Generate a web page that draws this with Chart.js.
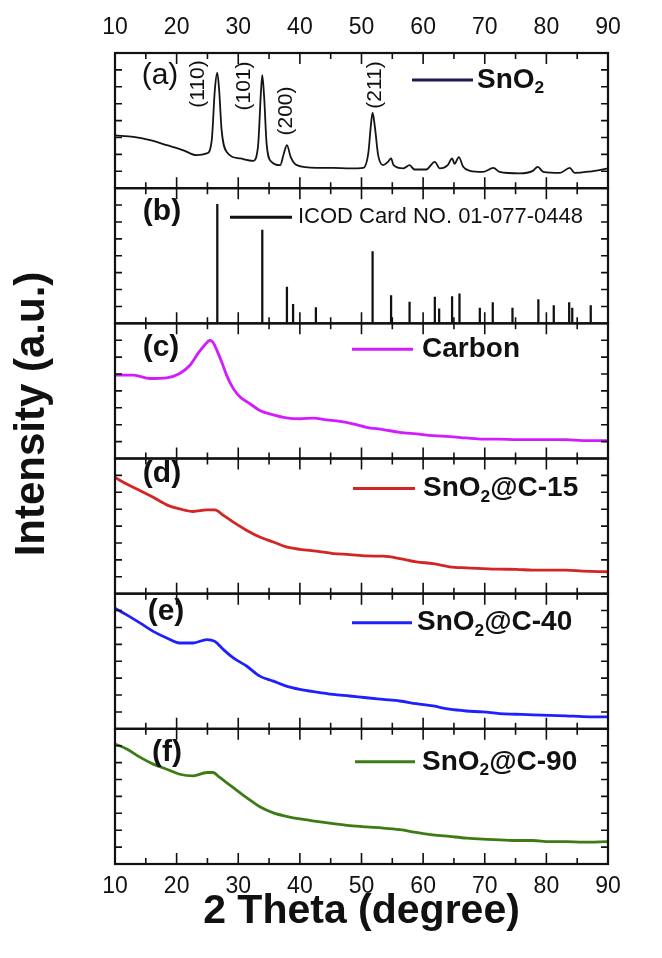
<!DOCTYPE html>
<html>
<head>
<meta charset="utf-8">
<script src="https://cdn.jsdelivr.net/npm/chart.js@4.4.0/dist/chart.umd.min.js"></script>
<style>
  html, body { margin: 0; padding: 0; background: #fff; }
</style>
</head>
<body>
<canvas id="xrd" width="662" height="958"></canvas>
<script>
var xTicks = [10, 20, 30, 40, 50, 60, 70, 80, 90];

// (a) SnO2 pattern, intensity in % of the panel height
var snoX = [10, 13, 15.7, 18.4, 21.1, 23.2, 24.9, 25.7, 26.2, 26.6, 26.9, 27.3, 28.1, 30.3, 32.4, 33.2, 33.7, 33.9, 34.2, 34.6, 35.4, 36.8, 37.4, 37.9, 38.5, 39.5, 42.7, 45.4, 48.1, 50.3, 51.1, 51.5, 51.8, 52.2, 52.7, 53.5, 54.3, 54.8, 55.2, 56.8, 57.8, 58.6, 60.5, 61.9, 62.7, 64, 64.7, 65.1, 65.8, 66.5, 67.6, 69.7, 71.4, 72.4, 75.7, 77.8, 78.6, 79.5, 82.2, 83.8, 84.6, 87, 90];
var snoY = [39, 38, 35.5, 31.8, 28, 24.4, 25.7, 35.5, 72.6, 85.4, 72.6, 43, 26.9, 22, 20.2, 30.6, 72.6, 83.7, 67.6, 33, 19.5, 17, 25.7, 31.8, 23.2, 17, 15, 15, 14.6, 15, 25.7, 45.4, 55.8, 44.2, 24.4, 17, 19.5, 22, 17, 14.6, 17, 13.8, 13.8, 19.5, 14.6, 17, 22, 18, 23, 15.8, 12.8, 12, 15, 12, 10.9, 12.8, 15.8, 12, 11.3, 15, 11.3, 12.3, 14.6];

// (b) reference card lines
var cardX = [26.6, 33.9, 37.9, 38.9, 42.6, 51.8, 54.8, 57.8, 61.9, 62.6, 64.7, 65.9, 69.2, 71.3, 74.5, 78.7, 81.2, 83.7, 84.2, 87.2];
var cardY = [88, 69, 26.9, 14, 11.7, 53, 20.6, 15.8, 19.4, 10.8, 19.8, 21.8, 11.3, 15.3, 11.2, 17.5, 13.2, 15.3, 11.2, 13.2];

// (c) carbon
var carbonX = [10, 13, 15.7, 18.4, 20.5, 22.2, 23.5, 24.6, 25.4, 25.9, 26.5, 27.3, 28.1, 29.2, 30.3, 31.9, 33.5, 35.7, 37.8, 40, 42.2, 44.3, 46.5, 48.6, 50.8, 53.5, 56.2, 58.9, 61.6, 64.3, 67, 69.7, 72.4, 75.1, 77.8, 80.5, 83.2, 85.9, 90];
var carbonY = [61.7, 61.7, 59.2, 59.7, 62.9, 69.2, 77.9, 84.1, 87.3, 86, 80.4, 71.6, 61.7, 51.7, 45.5, 40.5, 35.6, 32.3, 30.1, 29.4, 29.9, 28.6, 27.4, 25.6, 23.1, 21.4, 19.4, 18.2, 16.9, 16.2, 15.2, 14.4, 14.4, 13.9, 13.9, 13.9, 13.9, 13.2, 13.2];

// (d) (e) SnO2@C-15 / SnO2@C-40
var compX = [10, 11.9, 14.1, 16.2, 18.4, 20.5, 22.7, 24.9, 26.2, 27.6, 29.2, 31.4, 33.5, 35.7, 37.8, 40, 42.7, 45.4, 48.1, 50.8, 53.5, 56.2, 58.9, 61.6, 64.3, 67, 69.7, 72.4, 75.1, 77.8, 80.5, 83.2, 85.9, 90];
var c15Y = [86, 81.1, 76.2, 71.3, 65.7, 62.7, 60.8, 62, 62, 57.9, 52.9, 46.8, 41.9, 38.2, 34.6, 32.8, 31.4, 29.7, 28.9, 27.9, 27.7, 26, 23.5, 22.3, 19.9, 19.1, 18.6, 18.1, 18, 17.4, 17.4, 17.4, 16.7, 16.2];
var c40Y = [89.2, 84.3, 78.2, 72.1, 67.2, 63.5, 63.5, 66, 64.7, 58.6, 52.5, 46.3, 39, 35.3, 31.6, 29.2, 27.2, 25.5, 24.3, 23, 21.8, 20.6, 18.6, 16.9, 14.5, 13.2, 12.5, 11.3, 10.8, 10.3, 10, 9.6, 9, 8.8];

// (f) SnO2@C-90
var c90X = [10, 11.9, 14.1, 16.2, 18.4, 20.5, 22.7, 24.9, 25.9, 27, 29.2, 31.4, 33.5, 35.7, 37.8, 40, 42.7, 45.4, 48.1, 50.8, 53.5, 56.2, 58.9, 61.6, 64.3, 67, 69.7, 72.4, 75.1, 77.8, 80.5, 83.2, 85.9, 90];
var c90Y = [88.8, 85.1, 78.9, 73.9, 70.1, 66.4, 65.2, 67.7, 67.7, 64, 56.5, 49, 42.3, 37.8, 35.3, 33.3, 31.6, 29.9, 28.4, 27.4, 26.6, 25.4, 23.4, 21.6, 20.4, 19.2, 18.4, 17.9, 17.4, 17.4, 16.6, 16.6, 16.2, 16.6];

var peakLabels = ["(110)", "(101)", "(200)", "(211)"];
var peakLabelX = [23.5, 31, 37.8, 52.2];

var FONT = '"Liberation Sans", Arial, sans-serif';
var panelIds = ["pa", "pb", "pc", "pd", "pe", "pf"];

function pts(xs, ys) {
    return xs.map(function (x, i) { return { x: x, y: ys[i] }; });
}

function lineSet(xs, ys, color, axis, width) {
    return {
        type: "line",
        data: pts(xs, ys),
        yAxisID: axis,
        borderColor: color,
        borderWidth: width,
        pointRadius: 0,
        cubicInterpolationMode: "monotone",
        fill: false
    };
}

// decorations per panel, offsets from the panel's top-left corner
var deco = [
    { tag: "(a)", bold: false, lx: 45, ly: 23, l0: 297, l1: 358, ly2: 27, lc: "#1b1b4f",
      parts: [{ t: "SnO" }, { t: "2", sub: true }], tx: 362, tsize: 28, tw: "bold" },
    { tag: "(b)", bold: true, lx: 47, ly: 24, l0: 115, l1: 177, ly2: 29, lc: "#111",
      parts: [{ t: "ICOD Card NO. 01-077-0448" }], tx: 183, tsize: 22, tw: "normal" },
    { tag: "(c)", bold: true, lx: 46, ly: 24, l0: 237, l1: 298, ly2: 26, lc: "#d21cff",
      parts: [{ t: "Carbon" }], tx: 307, tsize: 28, tw: "bold" },
    { tag: "(d)", bold: true, lx: 47, ly: 15, l0: 238, l1: 300, ly2: 30, lc: "#d42424",
      parts: [{ t: "SnO" }, { t: "2", sub: true }, { t: "@C-15" }], tx: 308, tsize: 28, tw: "bold" },
    { tag: "(e)", bold: true, lx: 51, ly: 18, l0: 237, l1: 297, ly2: 29, lc: "#2020ff",
      parts: [{ t: "SnO" }, { t: "2", sub: true }, { t: "@C-40" }], tx: 302, tsize: 28, tw: "bold" },
    { tag: "(f)", bold: true, lx: 52, ly: 24, l0: 240, l1: 300, ly2: 33, lc: "#3d7c15",
      parts: [{ t: "SnO" }, { t: "2", sub: true }, { t: "@C-90" }], tx: 307, tsize: 28, tw: "bold" }
];

function richText(ctx, x, y, parts, size, weight) {
    parts.forEach(function (p) {
        var fs = p.sub ? size * 0.62 : size;
        ctx.font = weight + " " + fs + "px " + FONT;
        ctx.fillText(p.t, x, p.sub ? y + size * 0.3 : y);
        x += ctx.measureText(p.t).width;
    });
}

var framePlugin = {
    id: "frames",
    afterDatasetsDraw: function (chart) {
        var ctx = chart.ctx, x = chart.scales.x;
        ctx.save();
        ctx.strokeStyle = "#111";
        panelIds.forEach(function (id) {
            var s = chart.scales[id];
            var top = s.top, bot = s.bottom;
            ctx.lineWidth = 1.6;
            ctx.beginPath();
            xTicks.forEach(function (v, i) {
                var px = x.getPixelForValue(v);
                ctx.moveTo(px, bot); ctx.lineTo(px, bot - 11);
                ctx.moveTo(px, top); ctx.lineTo(px, top + 11);
                if (i < xTicks.length - 1) {
                    var mx = x.getPixelForValue((v + xTicks[i + 1]) / 2);
                    ctx.moveTo(mx, bot); ctx.lineTo(mx, bot - 6);
                    ctx.moveTo(mx, top); ctx.lineTo(mx, top + 6);
                }
            });
            for (var t = 12.5; t < 100; t += 12.5) {
                var py = s.getPixelForValue(t);
                ctx.moveTo(x.left, py); ctx.lineTo(x.left + 7, py);
                ctx.moveTo(x.right, py); ctx.lineTo(x.right - 7, py);
            }
            ctx.stroke();
            ctx.lineWidth = 2.2;
            ctx.strokeRect(x.left, top, x.right - x.left, bot - top);
        });
        ctx.restore();
    },
    afterDraw: function (chart) {
        var ctx = chart.ctx, x = chart.scales.x;
        ctx.save();
        ctx.fillStyle = "#111";
        ctx.textBaseline = "middle";
        deco.forEach(function (d, i) {
            var s = chart.scales[panelIds[i]];
            var L = x.left, T = s.top;
            ctx.textAlign = "center";
            ctx.font = (d.bold ? "bold " : "") + "30px " + FONT;
            ctx.fillText(d.tag, L + d.lx, T + d.ly);
            ctx.strokeStyle = d.lc;
            ctx.lineWidth = 3;
            ctx.beginPath();
            ctx.moveTo(L + d.l0, T + d.ly2);
            ctx.lineTo(L + d.l1, T + d.ly2);
            ctx.stroke();
            ctx.textAlign = "left";
            richText(ctx, L + d.tx, T + d.ly2, d.parts, d.tsize, d.tw);
        });
        // Miller indices above the SnO2 peaks
        var sa = chart.scales.pa;
        ctx.font = "21px " + FONT;
        ctx.textAlign = "center";
        var peakY = [84, 86, 111, 85];
        peakLabels.forEach(function (lab, i) {
            ctx.save();
            ctx.translate(x.getPixelForValue(peakLabelX[i]), sa.top + peakY[i] - 53);
            ctx.rotate(-Math.PI / 2);
            ctx.fillText(lab, 0, 0);
            ctx.restore();
        });
        // y axis title
        ctx.save();
        ctx.translate(44, 414);
        ctx.rotate(-Math.PI / 2);
        ctx.textBaseline = "alphabetic";
        ctx.font = "bold 42px " + FONT;
        ctx.fillText("Intensity (a.u.)", 0, 0);
        ctx.restore();
        ctx.restore();
    }
};

var yScales = {};
panelIds.forEach(function (id, i) {
    yScales[id] = {
        type: "linear",
        position: "left",
        stack: "panels",
        stackWeight: 1,
        weight: panelIds.length - i,
        min: 0,
        max: 100,
        ticks: { display: false },
        grid: { display: false, drawTicks: false },
        border: { display: false },
        afterFit: function (s) { s.width = 115; }
    };
});

var tickFont = { family: FONT, size: 23 };

var ctx = document.getElementById("xrd").getContext("2d");
var chart = new Chart(ctx, {
    type: "line",
    data: {
        datasets: [
            lineSet(snoX, snoY, "#141414", "pa", 1.8),
            {
                type: "bar",
                data: pts(cardX, cardY),
                yAxisID: "pb",
                backgroundColor: "#111",
                barThickness: 1.6,
                grouped: false
            },
            lineSet(carbonX, carbonY, "#d21cff", "pc", 2.8),
            lineSet(compX, c15Y, "#d42424", "pd", 2.8),
            lineSet(compX, c40Y, "#2020ff", "pe", 2.8),
            lineSet(c90X, c90Y, "#3d7c15", "pf", 2.8)
        ]
    },
    options: {
        responsive: false,
        animation: false,
        devicePixelRatio: 1,
        layout: { padding: { left: 0, right: 54, top: 0, bottom: 0 } },
        plugins: { legend: { display: false }, tooltip: { enabled: false } },
        scales: Object.assign({
            x: {
                type: "linear",
                position: "bottom",
                offset: false,
                min: 10,
                max: 90,
                ticks: { stepSize: 10, font: tickFont, color: "#111", padding: 9 },
                grid: { display: false, drawTicks: false, offset: false },
                border: { display: false },
                title: {
                    display: true,
                    text: "2 Theta (degree)",
                    color: "#111",
                    font: { family: FONT, size: 41, weight: "bold" },
                    padding: { top: 0, bottom: 22 }
                },
                afterFit: function (s) { s.height = 94; }
            },
            x2: {
                type: "linear",
                position: "top",
                min: 10,
                max: 90,
                ticks: { stepSize: 10, font: tickFont, color: "#111", padding: 12 },
                grid: { display: false, drawTicks: false },
                border: { display: false },
                afterFit: function (s) { s.height = 53; }
            }
        }, yScales)
    },
    plugins: [framePlugin]
});
</script>
</body>
</html>
